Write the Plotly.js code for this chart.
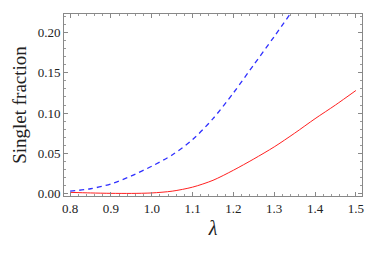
<!DOCTYPE html>
<html><head><meta charset="utf-8">
<script src="https://cdn.plot.ly/plotly-3.0.1.min.js"></script>
<style>html,body{margin:0;padding:0;background:#fff}#plot{width:379px;height:253px}</style>
</head><body><div id="plot"></div>
<script>
const lambdaRed = [0.80,0.85,0.90,0.95,1.00,1.05,1.10,1.15,1.20,1.25,1.30,1.35,1.40,1.45,1.50];
const singletRed = [0.0015,0.0008,0.0003,0.0002,0.0008,0.003,0.008,0.0165,0.029,0.043,0.058,0.075,0.093,0.110,0.128];
const lambdaBlue = [0.80,0.85,0.90,0.95,1.00,1.05,1.10,1.15,1.20,1.25,1.30,1.35];
const singletBlue = [0.003,0.006,0.012,0.022,0.034,0.048,0.067,0.093,0.125,0.160,0.195,0.231];
const xTicks = [0.8,0.9,1.0,1.1,1.2,1.3,1.4,1.5];
const xTickText = ["0.8","0.9","1.0","1.1","1.2","1.3","1.4","1.5"];
const yTicks = [0,0.05,0.10,0.15,0.20];
const yTickText = ["0.00","0.05","0.10","0.15","0.20"];

const fontFam = "'Liberation Serif', 'Times New Roman', 'DejaVu Serif', serif";
const traces = [
  {x: lambdaRed, y: singletRed, mode: 'lines', line: {color: '#ff2020', width: 1, shape: 'spline', smoothing: 0.8}, hoverinfo: 'skip'},
  {x: lambdaBlue, y: singletBlue, mode: 'lines', line: {color: '#3030ff', width: 1.3, dash: '5px,4px', shape: 'spline', smoothing: 0.8}, hoverinfo: 'skip'}
];
function axisCommon() {
  return {
    showgrid: false, zeroline: false, mirror: 'allticks', showline: true,
    linecolor: '#888', linewidth: 1, ticks: 'inside', ticklen: 4, tickcolor: '#888', tickwidth: 1,
    tickfont: {family: fontFam, size: 13, color: '#222'}
  };
}
const layout = {
  width: 379, height: 253,
  margin: {l: 64, r: 17, t: 14, b: 57},
  paper_bgcolor: '#fff', plot_bgcolor: '#fff',
  showlegend: false,
  font: {family: fontFam, color: '#222'},
  xaxis: Object.assign(axisCommon(), {
    range: [0.785, 1.515], tickvals: xTicks, ticktext: xTickText,
    minor: {dtick: 0.02, ticks: 'inside', ticklen: 2, tickcolor: '#999'},
    title: {text: '<i>λ</i>', font: {family: fontFam, size: 20, color: '#222'}, standoff: 6}
  }),
  yaxis: Object.assign(axisCommon(), {
    range: [-0.003, 0.223], tickvals: yTicks, ticktext: yTickText,
    minor: {dtick: 0.01, ticks: 'inside', ticklen: 2, tickcolor: '#999'},
    title: {text: 'Singlet fraction', font: {family: fontFam, size: 19, color: '#222'}, standoff: 6}
  })
};
Plotly.newPlot('plot', traces, layout, {staticPlot: true, displayModeBar: false});
</script></body></html>
